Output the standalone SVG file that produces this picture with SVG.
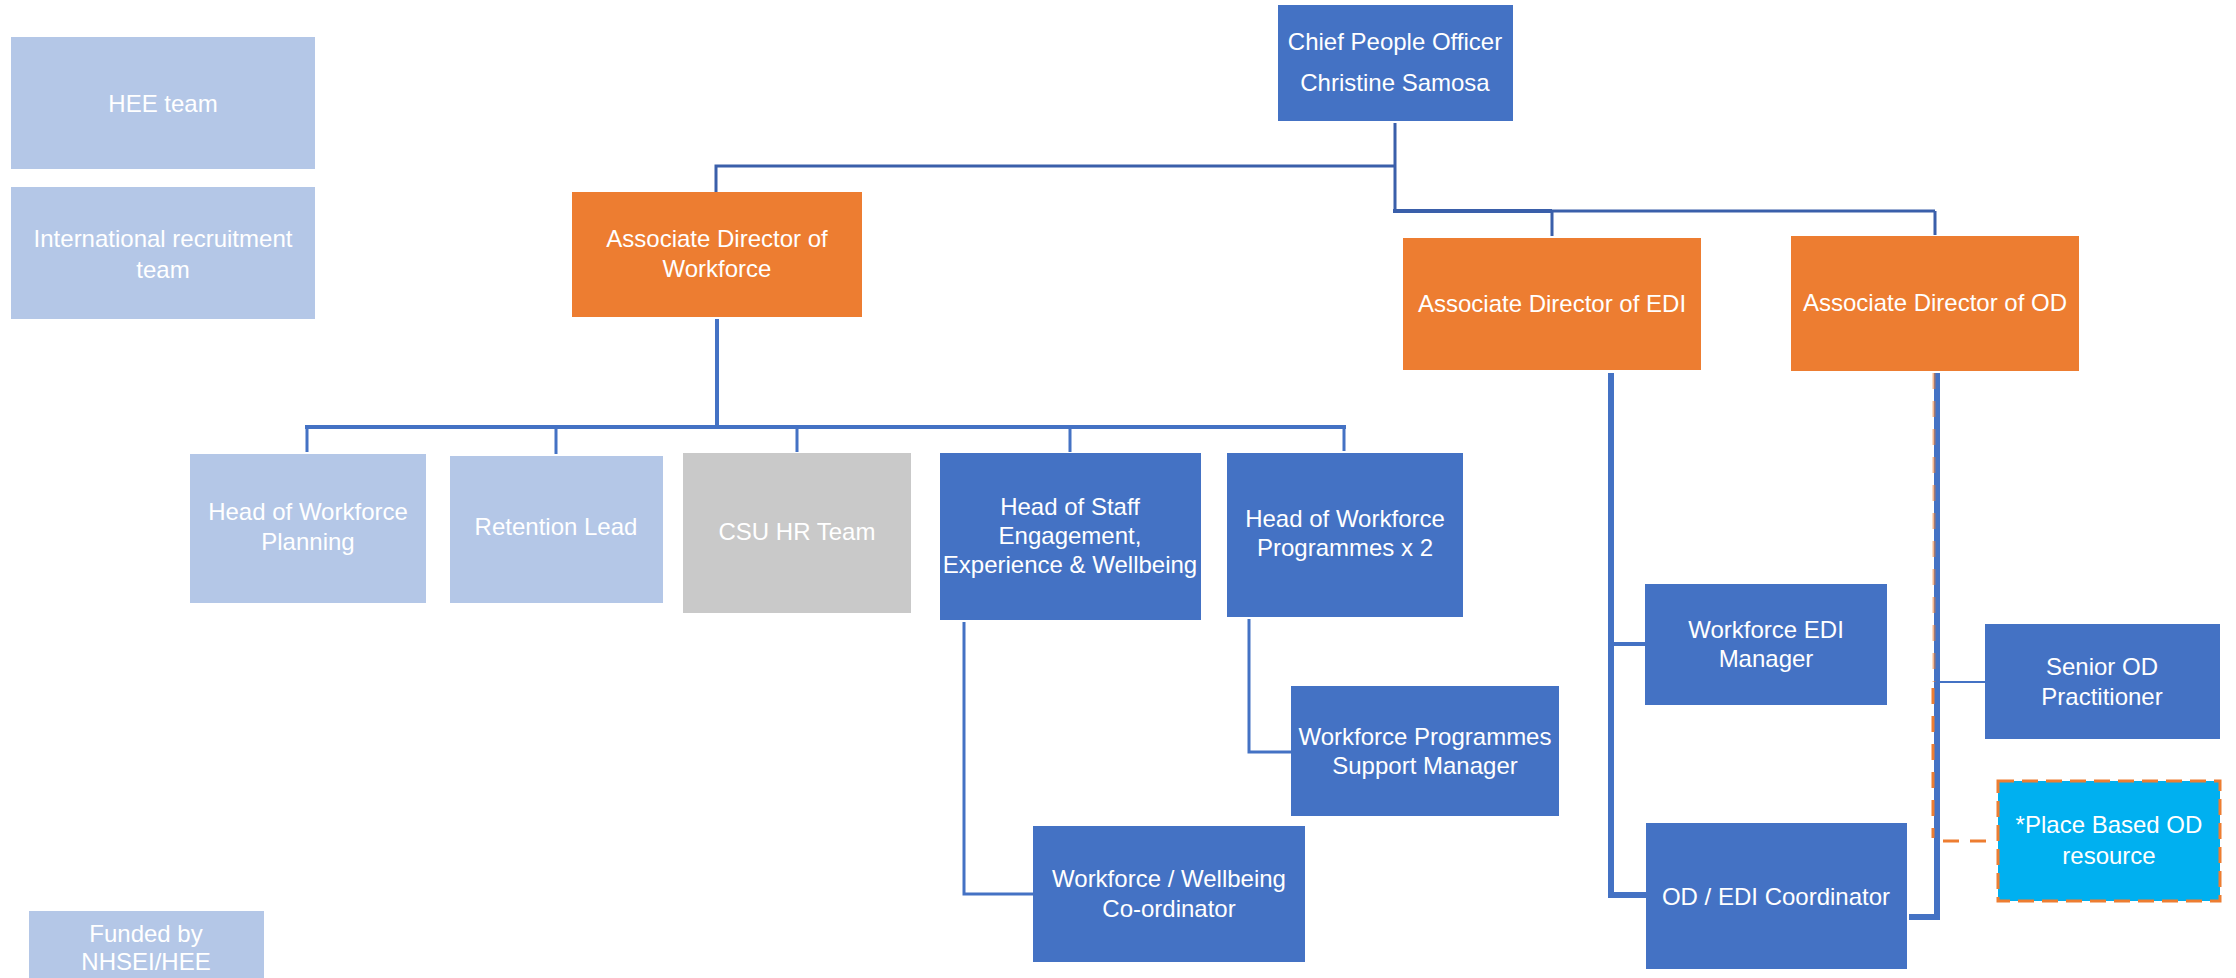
<svg xmlns="http://www.w3.org/2000/svg" width="2236" height="978" viewBox="0 0 2236 978">
<style>
text{font-family:"Liberation Sans",Arial,sans-serif;font-size:24px;fill:#ffffff;text-anchor:middle}
.lb{fill:#B4C7E7}
.or{fill:#ED7D31}
.bl{fill:#4472C4}
.gr{fill:#C9C9C9}
.cy{fill:#00B0F0}
.c{stroke:#4472C4;fill:none}
.cd{stroke:#3A5FAA;fill:none}
.od{stroke:#ED7D31;fill:none;stroke-dasharray:16 12}
</style>
<rect width="2236" height="978" fill="#ffffff"/>
<g id="connectors">
  <path class="cd" style="stroke-width:3" d="M1395 123 V211 M1395 166 H716 V192"/>
  <path class="cd" style="stroke-width:4" d="M1393 211 H1552"/>
  <path class="cd" style="stroke-width:3" d="M1552 211 H1935 M1552 211 V236 M1935 211 V235"/>
  <path class="c" style="stroke-width:4" d="M717 319 V427 M305 427 H1346"/>
  <path class="c" style="stroke-width:3" d="M307 427 V452 M556 427 V454 M797 427 V452 M1070 427 V452 M1344 427 V451"/>
  <path class="c" style="stroke-width:3" d="M964 622 V894 H1033"/>
  <path class="c" style="stroke-width:3" d="M1249 619 V752 H1291"/>
  <path class="c" style="stroke-width:6" d="M1611 373 V895 H1646"/>
  <path class="c" style="stroke-width:4" d="M1611 644 H1645"/>
  <path class="c" style="stroke-width:6" d="M1937 373 V917 H1909"/>
  <path class="c" style="stroke-width:2" d="M1937 682 H1985"/>
  <path class="od" style="stroke-width:3;opacity:0.55" d="M1934 373 V682"/>
  <path class="od" style="stroke-width:3" d="M1933 688 V838"/>
  <path class="od" style="stroke-width:3;stroke-dasharray:16 11" d="M1943 841 H1997"/>
</g>
<g id="hee"><rect class="lb" x="11" y="37" width="304" height="132"/><text x="163" y="112">HEE team</text></g>
<g id="intl"><rect class="lb" x="11" y="187" width="304" height="132"/><text x="163" y="247">International recruitment</text><text x="163" y="278">team</text></g>
<g id="chief"><rect class="bl" x="1278" y="5" width="235" height="116"/><text x="1395" y="50">Chief People Officer</text><text x="1395" y="91">Christine Samosa</text></g>
<g id="adw"><rect class="or" x="572" y="192" width="290" height="125"/><text x="717" y="247">Associate Director of</text><text x="717" y="277">Workforce</text></g>
<g id="adedi"><rect class="or" x="1403" y="238" width="298" height="132"/><text x="1552" y="312">Associate Director of EDI</text></g>
<g id="adod"><rect class="or" x="1791" y="236" width="288" height="135"/><text x="1935" y="311">Associate Director of OD</text></g>
<g id="howp"><rect class="lb" x="190" y="454" width="236" height="149"/><text x="308" y="520">Head of Workforce</text><text x="308" y="550">Planning</text></g>
<g id="ret"><rect class="lb" x="450" y="456" width="213" height="147"/><text x="556" y="535">Retention Lead</text></g>
<g id="csu"><rect class="gr" x="683" y="453" width="228" height="160"/><text x="797" y="540">CSU HR Team</text></g>
<g id="hose"><rect class="bl" x="940" y="453" width="261" height="167"/><text x="1070" y="515">Head of Staff</text><text x="1070" y="544">Engagement,</text><text x="1070" y="573">Experience &amp; Wellbeing</text></g>
<g id="howprog"><rect class="bl" x="1227" y="453" width="236" height="164"/><text x="1345" y="527">Head of Workforce</text><text x="1345" y="556">Programmes x 2</text></g>
<g id="wwc"><rect class="bl" x="1033" y="826" width="272" height="136"/><text x="1169" y="887">Workforce / Wellbeing</text><text x="1169" y="917">Co-ordinator</text></g>
<g id="wpsm"><rect class="bl" x="1291" y="686" width="268" height="130"/><text x="1425" y="745">Workforce Programmes</text><text x="1425" y="774">Support Manager</text></g>
<g id="wem"><rect class="bl" x="1645" y="584" width="242" height="121"/><text x="1766" y="638">Workforce EDI</text><text x="1766" y="667">Manager</text></g>
<g id="odedi"><rect class="bl" x="1646" y="823" width="261" height="146"/><text x="1776" y="905">OD / EDI Coordinator</text></g>
<g id="senior"><rect class="bl" x="1985" y="624" width="235" height="115"/><text x="2102" y="675">Senior OD</text><text x="2102" y="705">Practitioner</text></g>
<g id="place"><rect class="cy" x="1998" y="781" width="222" height="120" stroke="#ED7D31" stroke-width="3" stroke-dasharray="16 8"/><text x="2109" y="833">*Place Based OD</text><text x="2109" y="864">resource</text></g>
<g id="funded"><rect class="lb" x="29" y="911" width="235" height="67"/><text x="146" y="942">Funded by</text><text x="146" y="970">NHSEI/HEE</text></g>
</svg>
